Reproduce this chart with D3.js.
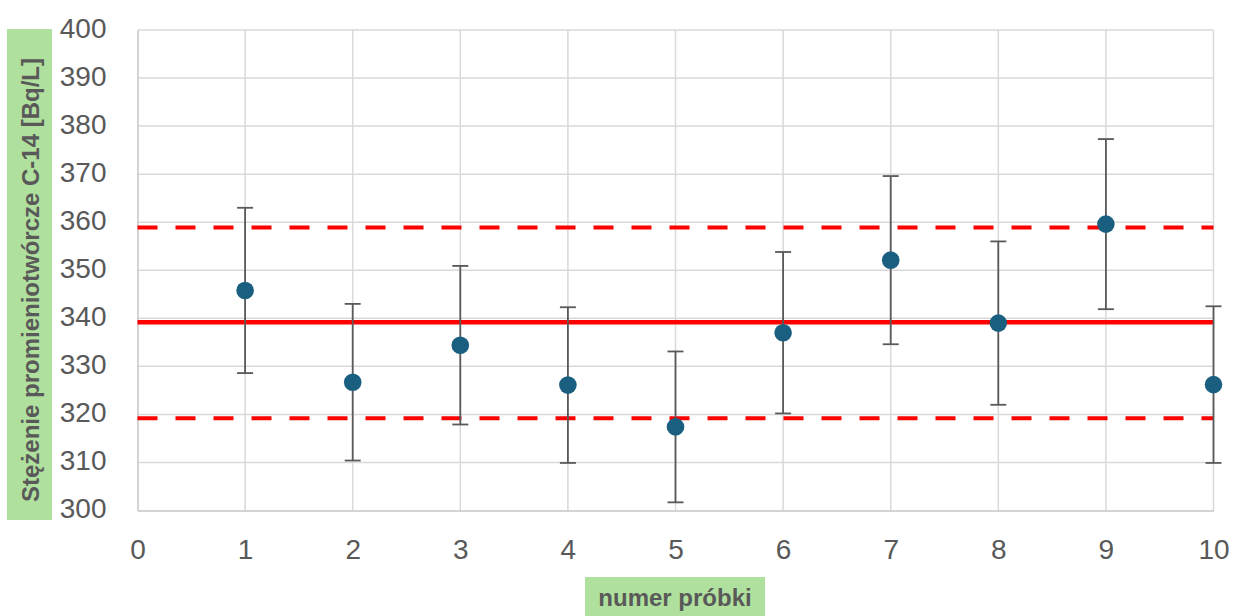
<!DOCTYPE html>
<html>
<head>
<meta charset="utf-8">
<script src="https://cdn.jsdelivr.net/npm/d3@7"></script>
<style>
  body { margin: 0; background: #fff; }
  svg { display: block; }
  .tick text { font-family: "Liberation Sans", Arial, sans-serif; font-size: 28px; fill: #595959; }
  .title { font-family: "Liberation Sans", Arial, sans-serif; font-weight: bold; font-size: 24px; fill: #595959; }
</style>
</head>
<body>
<div id="graph"></div>
<script>
// sample numbers and measured C-14 concentration
const samples = [1, 2, 3, 4, 5, 6, 7, 8, 9, 10]
const values = [345.8, 326.7, 334.4, 326.1, 317.4, 337.0, 352.1, 339.0, 359.6, 326.2]
const errors = [17.2, 16.3, 16.5, 16.2, 15.7, 16.8, 17.5, 17.0, 17.7, 16.3]

// mean and +/- limits (horizontal lines)
const meanValue = 339.2
const upperLimit = 358.9
const lowerLimit = 319.2

const xTicks = [0, 1, 2, 3, 4, 5, 6, 7, 8, 9, 10]
const yTicks = [300, 310, 320, 330, 340, 350, 360, 370, 380, 390, 400]

const W = 1233, H = 616
const margin = { top: 30, right: 19.5, bottom: 105.5, left: 137.5 },
    w = W - margin.left - margin.right,
    h = H - margin.top - margin.bottom

const svg = d3.select("#graph")
    .append("svg")
    .attr("width", W)
    .attr("height", H)

const g = svg.append("g")
    .attr("transform", `translate(${margin.left},${margin.top})`)

const xScale = d3.scaleLinear().domain([0, 10]).range([0, w]),
    yScale = d3.scaleLinear().domain([300, 400]).range([h, 0])

// gridlines
g.append("g")
    .selectAll("line.hgrid")
    .data(yTicks.slice(1))
    .enter()
    .append("line")
    .attr("x1", 0).attr("x2", w)
    .attr("y1", d => yScale(d)).attr("y2", d => yScale(d))
    .attr("stroke", "#d9d9d9").attr("stroke-width", 1.5)

g.append("g")
    .selectAll("line.vgrid")
    .data(xTicks.slice(1))
    .enter()
    .append("line")
    .attr("x1", d => xScale(d)).attr("x2", d => xScale(d))
    .attr("y1", 0).attr("y2", h)
    .attr("stroke", "#d9d9d9").attr("stroke-width", 1.5)

// axes
const xAxis = d3.axisBottom(xScale).tickValues(xTicks).tickSize(0).tickPadding(29).tickFormat(d3.format("d")),
    yAxis = d3.axisLeft(yScale).tickValues(yTicks).tickSize(0).tickPadding(31).tickFormat(d3.format("d"))

g.append("g")
    .attr("transform", `translate(0,${h})`)
    .call(xAxis)
    .call(a => a.select(".domain").attr("stroke", "#c6c6c6").attr("stroke-width", 1.5))

g.append("g")
    .call(yAxis)
    .call(a => a.select(".domain").attr("stroke", "#c6c6c6").attr("stroke-width", 1.5))
    .call(a => a.selectAll(".tick text").attr("dy", "0.26em"))

// reference lines
g.append("line")
    .attr("x1", 0).attr("x2", w)
    .attr("y1", yScale(meanValue)).attr("y2", yScale(meanValue))
    .attr("stroke", "#ff0000").attr("stroke-width", 4.5)

g.selectAll("line.limit")
    .data([upperLimit, lowerLimit])
    .enter()
    .append("line")
    .attr("x1", 0).attr("x2", w)
    .attr("y1", d => yScale(d)).attr("y2", d => yScale(d))
    .attr("stroke", "#ff0000").attr("stroke-width", 4)
    .attr("stroke-dasharray", "20 18")

// error bars
const eb = g.selectAll("g.err")
    .data(samples)
    .enter()
    .append("g")
    .attr("stroke", "#595959").attr("stroke-width", 1.8)

eb.append("line")
    .attr("x1", d => xScale(d)).attr("x2", d => xScale(d))
    .attr("y1", (d, i) => yScale(values[i] + errors[i]))
    .attr("y2", (d, i) => yScale(values[i] - errors[i]))

eb.append("line")
    .attr("x1", d => xScale(d) - 8).attr("x2", d => xScale(d) + 8)
    .attr("y1", (d, i) => yScale(values[i] + errors[i]))
    .attr("y2", (d, i) => yScale(values[i] + errors[i]))

eb.append("line")
    .attr("x1", d => xScale(d) - 8).attr("x2", d => xScale(d) + 8)
    .attr("y1", (d, i) => yScale(values[i] - errors[i]))
    .attr("y2", (d, i) => yScale(values[i] - errors[i]))

// points
g.selectAll("circle")
    .data(samples)
    .enter()
    .append("circle")
    .attr("cx", d => xScale(d))
    .attr("cy", (d, i) => yScale(values[i]))
    .attr("r", 8.8)
    .attr("fill", "#1a5f80")

// y title
svg.append("rect")
    .attr("x", 7).attr("y", 29).attr("width", 45).attr("height", 491)
    .attr("fill", "#b0e09d")
svg.append("text")
    .attr("class", "title")
    .attr("transform", "translate(39,280) rotate(-90)")
    .attr("text-anchor", "middle")
    .text("Stężenie promieniotwórcze C-14 [Bq/L]")

// x title
svg.append("rect")
    .attr("x", 585).attr("y", 577).attr("width", 180).attr("height", 45)
    .attr("fill", "#b0e09d")
svg.append("text")
    .attr("class", "title")
    .attr("x", 675).attr("y", 606)
    .attr("text-anchor", "middle")
    .text("numer próbki")
</script>
</body>
</html>
